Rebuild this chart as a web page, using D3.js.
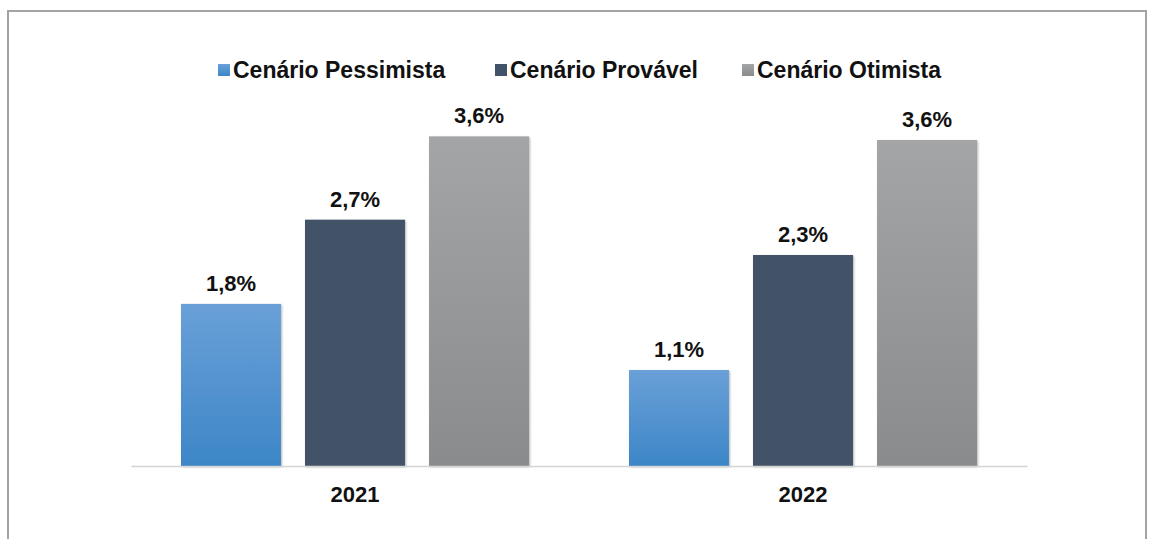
<!DOCTYPE html>
<html><head><meta charset="utf-8">
<script src="https://cdn.jsdelivr.net/npm/d3@7"></script>
<style>body{margin:0;background:#fff}svg{display:block}text{font-family:"Liberation Sans",Arial,sans-serif;font-weight:bold;fill:#111}</style>
</head><body><svg id="c" width="1152" height="539"></svg>
<script>
const categories = ["2021", "2022"];
const seriesNames = ["Cenário Pessimista", "Cenário Provável", "Cenário Otimista"];
const pessimista = [1.79, 1.06];
const provavel = [2.72, 2.33];
const otimista = [3.64, 3.60];

const svg = d3.select("#c");
const defs = svg.append("defs");
const grads = [["#6aa0d8", "#3d86c7"], ["#425268", "#425268"], ["#a3a5a6", "#8a8b8c"]];
grads.forEach((g, i) => {
  const lg = defs.append("linearGradient").attr("id", "g" + i).attr("x1", 0).attr("y1", 0).attr("x2", 0).attr("y2", 1);
  lg.append("stop").attr("offset", "0%").attr("stop-color", g[0]);
  lg.append("stop").attr("offset", "100%").attr("stop-color", g[1]);
});
const f = defs.append("filter").attr("id", "sh").attr("x", "-10%").attr("y", "-10%").attr("width", "130%").attr("height", "130%");
f.append("feDropShadow").attr("dx", 1).attr("dy", 1).attr("stdDeviation", 1.2).attr("flood-color", "#000").attr("flood-opacity", 0.3);

// frame
svg.append("path").attr("d", "M8,545 V11 H1146 V545").attr("fill", "none").attr("stroke", "#a3a3a3").attr("stroke-width", 2);

const left = 131, right = 1027, base = 466;
const x0 = d3.scaleBand().domain(categories).range([left, right]);
const x1 = d3.scaleBand().domain(seriesNames).range([0, 348]).paddingInner(0.194);
const y = d3.scaleLinear().domain([0, 3.6]).range([base, 140]);

const series = [pessimista, provavel, otimista];
const data = [];
categories.forEach((c, ci) => seriesNames.forEach((s, si) => data.push({c, s, si, v: series[si][ci]})));

const g = svg.append("g");
const groupOffset = (x0.bandwidth() - 348) / 2;
g.selectAll("rect.bar").data(data).join("rect").attr("class", "bar")
  .attr("x", d => x0(d.c) + groupOffset + x1(d.s))
  .attr("width", x1.bandwidth())
  .attr("y", d => y(d.v))
  .attr("height", d => base - y(d.v))
  .attr("fill", d => `url(#g${d.si})`)
  .attr("filter", "url(#sh)");

g.selectAll("text.lbl").data(data).join("text").attr("class", "lbl")
  .attr("x", d => x0(d.c) + groupOffset + x1(d.s) + x1.bandwidth() / 2)
  .attr("y", d => y(d.v) - 13)
  .attr("text-anchor", "middle").attr("font-size", 22)
  .text(d => d.v.toFixed(1).replace(".", ",") + "%");

// axis
const ax = svg.append("g").attr("transform", `translate(0,${base})`).call(d3.axisBottom(x0).tickSize(0).tickPadding(0));
ax.select(".domain").attr("stroke", "#d4d4d4").attr("stroke-width", 1.5);
ax.selectAll("text").attr("font-size", 22).attr("dy", 0).attr("y", 36).attr("fill", "#111")
  .attr("font-family", '"Liberation Sans",Arial,sans-serif').attr("font-weight", "bold");

// legend
const legX = [218, 495, 742];
const leg = svg.append("g");
seriesNames.forEach((s, i) => {
  leg.append("rect").attr("x", legX[i]).attr("y", 64).attr("width", 12).attr("height", 12).attr("fill", `url(#g${i})`);
  leg.append("text").attr("x", legX[i] + 15).attr("y", 78).attr("font-size", 23).text(s);
});
</script></body></html>
